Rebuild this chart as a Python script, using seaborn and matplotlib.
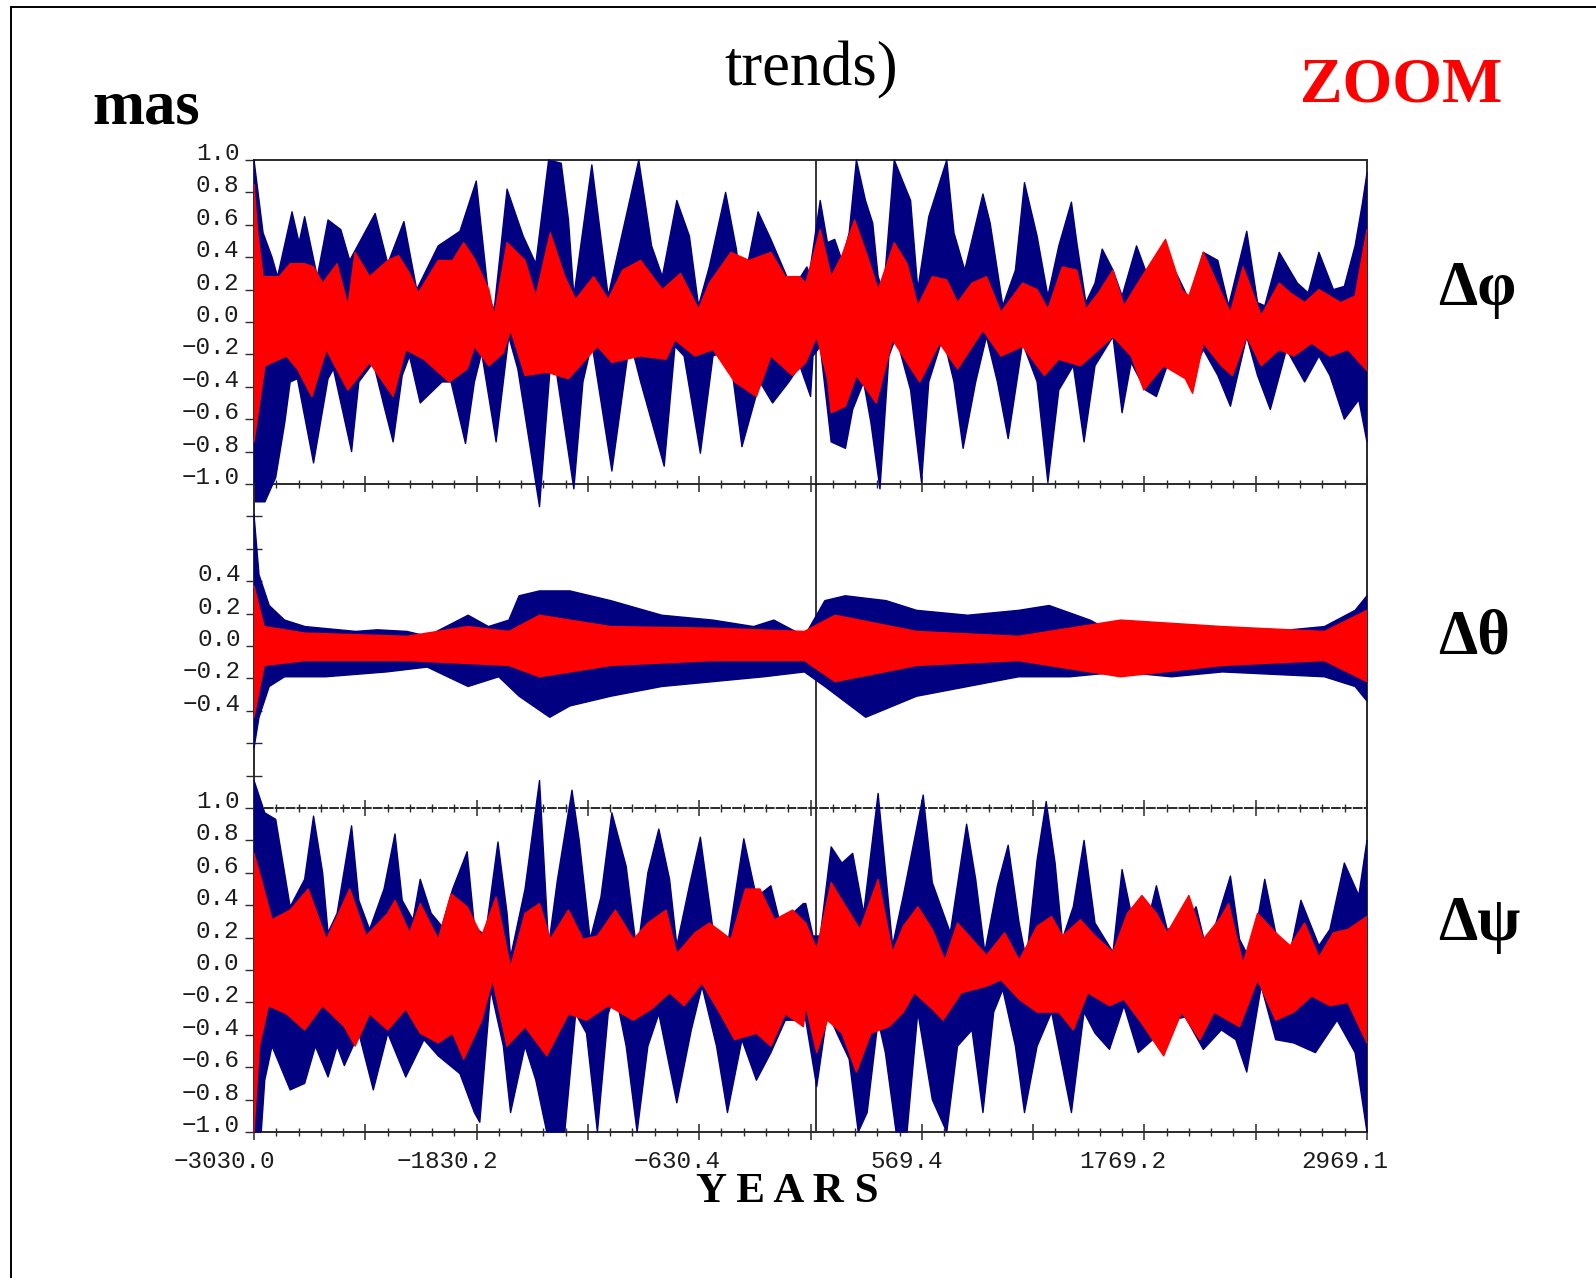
import numpy as np
import pandas as pd
import matplotlib
matplotlib.use("Agg")
import matplotlib.pyplot as plt
import seaborn as sns
from matplotlib.lines import Line2D

# ---------------------------------------------------------------- data
X_MIN, X_MAX = -3030.0, 2969.1
X_TICK_LABELS = ["\u22123030.0", "\u22121830.2", "\u2212630.4", "569.4", "1769.2", "2969.1"]
Y_TICKS_FULL = [-1.0, -0.8, -0.6, -0.4, -0.2, 0.0, 0.2, 0.4, 0.6, 0.8, 1.0]
Y_TICKS_MID = [-0.8, -0.6, -0.4, -0.2, 0.0, 0.2, 0.4, 0.6, 0.8]
Y_LABELS_MID = ["", "", "\u22120.4", "\u22120.2", "0.0", "0.2", "0.4", "", ""]
PANEL_NAMES = ["\u0394\u03c6", "\u0394\u03b8", "\u0394\u03c8"]

# envelopes (year, mas)
PHI_BLUE_HI = [(-3030, 1.00), (-2981, 0.55), (-2933, 0.40), (-2903, 0.28), (-2825, 0.68), (-2787, 0.49),
               (-2757, 0.65), (-2689, 0.28), (-2631, 0.63), (-2562, 0.57), (-2514, 0.38), (-2377, 0.67),
               (-2309, 0.36), (-2222, 0.62), (-2153, 0.20), (-2037, 0.47), (-1920, 0.56), (-1832, 0.87),
               (-1764, 0.14), (-1735, 0.08), (-1666, 0.82), (-1579, 0.53), (-1511, 0.36), (-1442, 1.00),
               (-1374, 0.98), (-1335, 0.63), (-1306, 0.16), (-1209, 0.97), (-1121, 0.16), (-956, 1.00),
               (-887, 0.47), (-829, 0.28), (-751, 0.75), (-683, 0.53), (-634, 0.10), (-576, 0.34),
               (-488, 0.80), (-430, 0.45), (-400, 0.18), (-313, 0.68), (-244, 0.51), (-128, 0.20),
               (-50, 0.34), (-36, 0.30), (22, 0.75), (61, 0.49), (100, 0.51), (139, 0.38), (178, 0.55),
               (217, 1.00), (266, 0.75), (305, 0.61), (334, 0.28), (363, 0.18), (421, 1.00), (470, 0.86),
               (509, 0.75), (548, 0.20), (607, 0.65), (704, 1.00), (743, 0.55), (801, 0.32), (899, 0.79),
               (938, 0.61), (1006, 0.10), (1074, 0.32), (1123, 0.86), (1191, 0.53), (1249, 0.16),
               (1308, 0.47), (1376, 0.74), (1405, 0.49), (1454, 0.12), (1503, 0.24), (1542, 0.45),
               (1600, 0.32), (1649, 0.16), (1727, 0.47), (1775, 0.32), (1824, 0.18), (1883, 0.41),
               (1950, 0.28), (2009, 0.14), (2087, 0.43), (2165, 0.38), (2223, 0.10), (2321, 0.56),
               (2379, 0.12), (2418, 0.10), (2496, 0.43), (2594, 0.24), (2652, 0.18), (2710, 0.43),
               (2788, 0.20), (2847, 0.22), (2905, 0.47), (2944, 0.73), (2969, 0.92)]
PHI_BLUE_LO = [(-3030, -1.11), (-2971, -1.11), (-2913, -0.96), (-2864, -0.62), (-2835, -0.37), (-2796, -0.35),
               (-2709, -0.87), (-2631, -0.35), (-2602, -0.29), (-2504, -0.80), (-2465, -0.37), (-2387, -0.25),
               (-2329, -0.52), (-2280, -0.74), (-2231, -0.33), (-2192, -0.21), (-2134, -0.50), (-2017, -0.37),
               (-1968, -0.37), (-1890, -0.75), (-1842, -0.37), (-1803, -0.19), (-1725, -0.74), (-1657, -0.09),
               (-1608, -0.29), (-1491, -1.14), (-1433, -0.27), (-1413, -0.21), (-1306, -1.03), (-1257, -0.37),
               (-1209, -0.13), (-1101, -0.92), (-1004, -0.11), (-946, -0.37), (-819, -0.89), (-761, -0.15),
               (-712, -0.21), (-624, -0.81), (-556, -0.21), (-468, -0.17), (-400, -0.77), (-303, -0.37),
               (-235, -0.50), (-147, -0.37), (-88, -0.27), (-30, -0.46), (-17, -0.21), (22, -0.15),
               (81, -0.74), (158, -0.78), (197, -0.54), (256, -0.37), (295, -0.62), (344, -1.03),
               (392, -0.21), (431, -0.09), (509, -0.42), (568, -0.99), (607, -0.37), (684, -0.09),
               (743, -0.37), (792, -0.78), (860, -0.37), (918, -0.09), (977, -0.37), (1035, -0.72),
               (1113, -0.13), (1191, -0.37), (1249, -0.99), (1308, -0.42), (1386, -0.27), (1444, -0.74),
               (1503, -0.27), (1600, -0.09), (1649, -0.56), (1698, -0.25), (1775, -0.42), (1834, -0.46),
               (1892, -0.27), (2048, -0.27), (2087, -0.17), (2165, -0.33), (2233, -0.52), (2321, -0.09),
               (2379, -0.33), (2448, -0.54), (2535, -0.17), (2633, -0.37), (2710, -0.21), (2769, -0.33),
               (2847, -0.60), (2925, -0.48), (2969, -0.74)]
PHI_RED_HI = [(-3030, 0.85), (-3010, 0.55), (-2981, 0.28), (-2894, 0.28), (-2835, 0.36), (-2757, 0.36),
              (-2709, 0.34), (-2660, 0.24), (-2582, 0.36), (-2524, 0.10), (-2485, 0.43), (-2407, 0.28),
              (-2309, 0.38), (-2251, 0.41), (-2192, 0.30), (-2144, 0.18), (-2037, 0.38), (-1959, 0.38),
              (-1900, 0.49), (-1842, 0.39), (-1764, 0.20), (-1735, 0.04), (-1666, 0.49), (-1569, 0.38),
              (-1511, 0.16), (-1433, 0.55), (-1355, 0.28), (-1296, 0.14), (-1199, 0.28), (-1121, 0.14),
              (-1043, 0.32), (-946, 0.38), (-829, 0.20), (-731, 0.30), (-634, 0.08), (-576, 0.24),
              (-459, 0.43), (-361, 0.38), (-244, 0.43), (-166, 0.28), (-88, 0.28), (-56, 0.24),
              (22, 0.57), (81, 0.28), (139, 0.41), (207, 0.63), (275, 0.41), (334, 0.20), (421, 0.49),
              (490, 0.36), (548, 0.10), (626, 0.28), (704, 0.26), (762, 0.12), (840, 0.24), (918, 0.28),
              (996, 0.06), (1113, 0.24), (1191, 0.20), (1249, 0.08), (1327, 0.34), (1405, 0.32),
              (1454, 0.08), (1522, 0.18), (1600, 0.32), (1659, 0.10), (1756, 0.28), (1883, 0.51),
              (1970, 0.20), (2009, 0.16), (2087, 0.43), (2184, 0.18), (2233, 0.06), (2301, 0.34),
              (2399, 0.04), (2496, 0.24), (2555, 0.18), (2633, 0.12), (2710, 0.20), (2827, 0.12),
              (2905, 0.16), (2969, 0.57)]
PHI_RED_LO = [(-3030, -0.74), (-3010, -0.58), (-2971, -0.27), (-2855, -0.21), (-2796, -0.29), (-2718, -0.46),
              (-2640, -0.17), (-2524, -0.42), (-2407, -0.25), (-2280, -0.46), (-2212, -0.17), (-2114, -0.23),
              (-1978, -0.37), (-1881, -0.29), (-1842, -0.15), (-1764, -0.27), (-1686, -0.19), (-1647, -0.05),
              (-1569, -0.33), (-1452, -0.31), (-1335, -0.35), (-1257, -0.25), (-1179, -0.15), (-1101, -0.25),
              (-946, -0.21), (-809, -0.23), (-761, -0.11), (-653, -0.21), (-556, -0.17), (-439, -0.37),
              (-322, -0.46), (-244, -0.21), (-128, -0.33), (-56, -0.25), (3, -0.09), (61, -0.35),
              (81, -0.56), (158, -0.52), (217, -0.33), (275, -0.42), (324, -0.50), (412, -0.11),
              (490, -0.25), (558, -0.37), (665, -0.13), (762, -0.29), (899, -0.05), (996, -0.21),
              (1113, -0.15), (1230, -0.33), (1308, -0.23), (1425, -0.27), (1503, -0.19), (1600, -0.09),
              (1698, -0.21), (1766, -0.42), (1873, -0.27), (1990, -0.35), (2029, -0.44), (2087, -0.13),
              (2184, -0.27), (2243, -0.33), (2321, -0.09), (2399, -0.27), (2496, -0.17), (2574, -0.21),
              (2671, -0.13), (2769, -0.21), (2866, -0.17), (2969, -0.30)]

THETA_BLUE_HI = [(-3030, 0.81), (-3003, 0.44), (-2948, 0.25), (-2865, 0.16), (-2755, 0.12), (-2481, 0.09),
                 (-2366, 0.10), (-2206, 0.09), (-2096, 0.06), (-1876, 0.19), (-1766, 0.12), (-1656, 0.16),
                 (-1601, 0.31), (-1491, 0.34), (-1327, 0.34), (-1107, 0.28), (-832, 0.19), (-557, 0.16),
                 (-337, 0.12), (-228, 0.16), (-63, 0.06), (47, 0.28), (157, 0.31), (377, 0.28), (542, 0.22),
                 (817, 0.19), (1091, 0.22), (1256, 0.25), (1476, 0.16), (1641, 0.06), (1916, 0.12),
                 (2190, 0.09), (2465, 0.09), (2740, 0.12), (2905, 0.22), (2969, 0.31)]
THETA_BLUE_LO = [(-3030, -0.63), (-3003, -0.44), (-2948, -0.25), (-2865, -0.19), (-2645, -0.19), (-2316, -0.16),
                 (-2096, -0.13), (-1876, -0.25), (-1711, -0.19), (-1601, -0.31), (-1436, -0.44), (-1327, -0.37),
                 (-1107, -0.31), (-832, -0.25), (-557, -0.22), (-283, -0.19), (-63, -0.16), (47, -0.25),
                 (267, -0.44), (542, -0.31), (817, -0.25), (1091, -0.19), (1366, -0.19), (1641, -0.16),
                 (1916, -0.19), (2190, -0.16), (2740, -0.19), (2905, -0.25), (2969, -0.34)]
THETA_RED_HI = [(-3030, 0.37), (-2975, 0.12), (-2755, 0.08), (-2206, 0.06), (-1876, 0.12), (-1656, 0.09),
                (-1491, 0.19), (-1107, 0.12), (-557, 0.11), (-63, 0.09), (102, 0.19), (542, 0.09),
                (1091, 0.06), (1641, 0.16), (2190, 0.12), (2740, 0.09), (2969, 0.22)]
THETA_RED_LO = [(-3030, -0.44), (-2975, -0.12), (-2755, -0.09), (-2206, -0.09), (-1656, -0.12), (-1491, -0.19),
                (-1107, -0.12), (-557, -0.09), (-63, -0.09), (102, -0.22), (542, -0.12), (1091, -0.09),
                (1641, -0.19), (2190, -0.12), (2740, -0.09), (2969, -0.22)]

PSI_BLUE_HI = [(-3030, 1.17), (-2972, 0.97), (-2913, 0.93), (-2874, 0.66), (-2835, 0.39), (-2757, 0.56),
               (-2709, 0.95), (-2660, 0.60), (-2631, 0.23), (-2582, 0.35), (-2504, 0.89), (-2465, 0.43),
               (-2407, 0.25), (-2329, 0.50), (-2270, 0.84), (-2231, 0.43), (-2173, 0.31), (-2134, 0.56),
               (-2075, 0.35), (-2017, 0.27), (-1959, 0.50), (-1881, 0.73), (-1842, 0.27), (-1783, 0.21),
               (-1715, 0.79), (-1666, 0.35), (-1647, 0.08), (-1569, 0.50), (-1491, 1.17), (-1442, 0.15),
               (-1394, 0.56), (-1316, 1.11), (-1277, 0.80), (-1218, 0.19), (-1160, 0.45), (-1101, 0.97),
               (-1024, 0.64), (-965, 0.10), (-907, 0.60), (-848, 0.87), (-790, 0.56), (-751, 0.15),
               (-683, 0.52), (-624, 0.82), (-556, 0.25), (-478, 0.15), (-390, 0.81), (-322, 0.45),
               (-244, 0.52), (-186, 0.25), (-127, 0.35), (-69, 0.41), (-56, 0.41), (-17, 0.21), (22, 0.21),
               (81, 0.76), (139, 0.66), (197, 0.72), (256, 0.35), (334, 1.09), (412, 0.15), (470, 0.46),
               (577, 1.08), (626, 0.54), (723, 0.23), (811, 0.90), (860, 0.56), (909, 0.11), (977, 0.52),
               (1035, 0.77), (1094, 0.29), (1133, 0.06), (1191, 0.68), (1240, 1.04), (1288, 0.66),
               (1327, 0.19), (1386, 0.39), (1444, 0.80), (1503, 0.29), (1600, 0.11), (1649, 0.62),
               (1698, 0.35), (1756, 0.15), (1834, 0.52), (1892, 0.25), (1990, 0.29), (2048, 0.39),
               (2107, 0.11), (2233, 0.58), (2282, 0.19), (2340, 0.06), (2418, 0.56), (2477, 0.23),
               (2555, 0.11), (2613, 0.43), (2710, 0.15), (2769, 0.25), (2847, 0.66), (2925, 0.46),
               (2969, 0.80)]
PSI_BLUE_LO = [(-3030, -1.00), (-2991, -1.00), (-2972, -0.68), (-2933, -0.47), (-2835, -0.74), (-2757, -0.70),
               (-2699, -0.47), (-2631, -0.66), (-2582, -0.47), (-2543, -0.59), (-2465, -0.39), (-2387, -0.74),
               (-2309, -0.39), (-2212, -0.66), (-2114, -0.43), (-2037, -0.53), (-1920, -0.64), (-1842, -0.88),
               (-1813, -0.94), (-1754, -0.12), (-1686, -0.47), (-1647, -0.88), (-1569, -0.47), (-1511, -0.68),
               (-1452, -1.00), (-1355, -1.00), (-1296, -0.27), (-1238, -0.39), (-1179, -1.00), (-1121, -0.27),
               (-1082, -0.14), (-1024, -0.47), (-965, -1.00), (-907, -0.47), (-848, -0.27), (-751, -0.82),
               (-673, -0.37), (-615, -0.10), (-537, -0.47), (-478, -0.88), (-400, -0.43), (-322, -0.68),
               (-244, -0.51), (-166, -0.31), (-88, -0.31), (-56, -0.31), (3, -0.72), (61, -0.26),
               (120, -0.41), (178, -0.55), (227, -1.00), (275, -0.88), (334, -0.31), (373, -0.51),
               (431, -1.00), (490, -1.00), (548, -0.26), (626, -0.80), (704, -1.00), (762, -0.47),
               (840, -0.37), (899, -0.88), (957, -0.26), (1006, -0.12), (1074, -0.47), (1123, -0.88),
               (1191, -0.47), (1269, -0.26), (1376, -0.88), (1444, -0.26), (1503, -0.39), (1581, -0.49),
               (1659, -0.22), (1736, -0.51), (1814, -0.43), (1912, -0.31), (1990, -0.29), (2087, -0.49),
               (2184, -0.37), (2262, -0.43), (2321, -0.63), (2399, -0.10), (2477, -0.43), (2574, -0.45),
               (2691, -0.51), (2808, -0.31), (2905, -0.51), (2969, -1.00)]
PSI_RED_HI = [(-3030, 0.72), (-2991, 0.56), (-2933, 0.31), (-2835, 0.37), (-2738, 0.50), (-2640, 0.19),
              (-2582, 0.33), (-2514, 0.50), (-2426, 0.21), (-2309, 0.35), (-2270, 0.43), (-2192, 0.23),
              (-2134, 0.41), (-2037, 0.19), (-1968, 0.47), (-1881, 0.39), (-1803, 0.21), (-1725, 0.45),
              (-1647, 0.02), (-1569, 0.35), (-1491, 0.41), (-1433, 0.19), (-1335, 0.37), (-1257, 0.19),
              (-1179, 0.21), (-1082, 0.37), (-985, 0.19), (-907, 0.29), (-809, 0.37), (-751, 0.10),
              (-653, 0.23), (-575, 0.29), (-459, 0.19), (-381, 0.50), (-303, 0.50), (-225, 0.31),
              (-127, 0.37), (-56, 0.29), (3, 0.13), (81, 0.54), (139, 0.43), (236, 0.25), (334, 0.56),
              (412, 0.11), (470, 0.27), (548, 0.39), (626, 0.25), (694, 0.06), (762, 0.29), (840, 0.19),
              (918, 0.09), (1016, 0.23), (1094, 0.06), (1191, 0.27), (1269, 0.33), (1327, 0.21),
              (1425, 0.31), (1503, 0.21), (1600, 0.11), (1678, 0.35), (1756, 0.46), (1834, 0.35),
              (1892, 0.23), (2009, 0.46), (2087, 0.19), (2184, 0.33), (2223, 0.41), (2301, 0.04),
              (2379, 0.35), (2477, 0.23), (2555, 0.15), (2633, 0.29), (2710, 0.08), (2788, 0.23),
              (2866, 0.25), (2969, 0.33)]
PSI_RED_LO = [(-3030, -1.00), (-3001, -0.47), (-2952, -0.22), (-2855, -0.27), (-2757, -0.37), (-2660, -0.22),
              (-2543, -0.35), (-2485, -0.47), (-2407, -0.27), (-2309, -0.37), (-2212, -0.24), (-2134, -0.39),
              (-2037, -0.45), (-1959, -0.39), (-1900, -0.55), (-1803, -0.31), (-1744, -0.06), (-1666, -0.47),
              (-1569, -0.35), (-1452, -0.53), (-1335, -0.27), (-1238, -0.31), (-1121, -0.22), (-985, -0.31),
              (-887, -0.24), (-790, -0.14), (-712, -0.22), (-615, -0.08), (-517, -0.27), (-439, -0.43),
              (-322, -0.39), (-244, -0.47), (-166, -0.27), (-69, -0.35), (-56, -0.22), (3, -0.51),
              (61, -0.31), (139, -0.39), (217, -0.63), (295, -0.39), (392, -0.35), (470, -0.26),
              (529, -0.14), (626, -0.24), (684, -0.31), (782, -0.14), (918, -0.10), (996, -0.06),
              (1094, -0.18), (1191, -0.26), (1308, -0.26), (1386, -0.37), (1464, -0.14), (1581, -0.22),
              (1659, -0.18), (1756, -0.33), (1873, -0.53), (1970, -0.26), (2068, -0.43), (2145, -0.26),
              (2282, -0.35), (2379, -0.06), (2477, -0.31), (2574, -0.26), (2671, -0.16), (2769, -0.22),
              (2866, -0.20), (2969, -0.45)]

# ---------------------------------------------------------------- style
sns.set_theme(style="white")
MONO = ["Liberation Mono", "DejaVu Sans Mono"]
SERIF = ["Liberation Serif", "DejaVu Serif"]
plt.rcParams["font.family"] = MONO
plt.rcParams["axes.unicode_minus"] = True

BLUE = "#000080"
RED = "#ff0000"
SPINE = "#2a2a2a"
LABEL = "#1c1c1c"
TICK_FS = 17.5

W, H = 1596, 1278
fig = plt.figure(figsize=(W / 100, H / 100), dpi=100, facecolor="white")

left = 254 / W
width = (1367 - 254) / W
ph = 324 / H
bottoms = [(H - 484) / H, (H - 808) / H, (H - 1132) / H]
axes = [fig.add_axes([left, b, width, ph]) for b in bottoms]

major_x = X_MIN + (X_MAX - X_MIN) / 10 * np.arange(11)
minor_x = X_MIN + (X_MAX - X_MIN) / 50 * np.arange(51)


def to_frame(pairs):
    return pd.DataFrame(pairs, columns=["year", "value"])


def draw_band(ax, hi, lo, color, z):
    dh, dl = to_frame(hi), to_frame(lo)
    xs = np.concatenate([dh["year"].values, dl["year"].values[::-1]])
    ys = np.concatenate([dh["value"].values, dl["value"].values[::-1]])
    ax.fill(xs, ys, facecolor=color, edgecolor="none", zorder=z, clip_on=False)
    for d in (dh, dl):
        sns.lineplot(data=d, x="year", y="value", ax=ax, color=color, lw=1.0,
                     estimator=None, sort=False, zorder=z, clip_on=False)


bands = [
    (PHI_BLUE_HI, PHI_BLUE_LO, PHI_RED_HI, PHI_RED_LO),
    (THETA_BLUE_HI, THETA_BLUE_LO, THETA_RED_HI, THETA_RED_LO),
    (PSI_BLUE_HI, PSI_BLUE_LO, PSI_RED_HI, PSI_RED_LO),
]

for i, (ax, (bh, bl, rh, rl)) in enumerate(zip(axes, bands)):
    ax.set_facecolor("none")
    ax.axvline(0.0, color="black", lw=1.1, zorder=2)
    draw_band(ax, bh, bl, BLUE, 3)
    draw_band(ax, rh, rl, RED, 4)
    ax.set_xlim(X_MIN, X_MAX)
    ax.set_ylim(-1.0, 1.0)
    ax.set_xlabel("")
    ax.set_ylabel("")
    ax.grid(False)
    for s in ax.spines.values():
        s.set_visible(True)
        s.set_color(SPINE)
        s.set_linewidth(1.4)
    ax.set_xticks(major_x)
    ax.set_xticks(minor_x, minor=True)
    ax.tick_params(axis="x", which="both", labelbottom=False, labeltop=False,
                   direction="inout", color=SPINE)
    ax.tick_params(axis="x", which="major", length=12, width=1.1)
    ax.tick_params(axis="x", which="minor", length=5.5, width=1.0)

# top panel
ax0, ax1, ax2 = axes
ax0.tick_params(axis="x", which="both", bottom=True, top=False)
# middle panel
ax1.spines["top"].set_visible(False)
ax1.spines["bottom"].set_visible(False)
ax1.tick_params(axis="x", which="both", bottom=False, top=False)
# bottom panel
ax2.spines["top"].set_linestyle((0, (4, 1.6)))
ax2.tick_params(axis="x", which="both", bottom=True, top=True)

for ax, ticks, labels, direc, ln in [
    (ax0, Y_TICKS_FULL, [f"{v:.1f}".replace("-", "\u2212") for v in Y_TICKS_FULL], "out", 6.5),
    (ax1, Y_TICKS_MID, Y_LABELS_MID, "inout", 11),
    (ax2, Y_TICKS_FULL, [f"{v:.1f}".replace("-", "\u2212") for v in Y_TICKS_FULL], "out", 6.5),
]:
    ax.set_yticks(ticks)
    ax.set_yticklabels(labels)
    ax.tick_params(axis="y", which="major", left=True, right=False, direction=direc,
                   length=ln, width=1.0, color=SPINE, pad=4, labelsize=TICK_FS,
                   labelcolor=LABEL)
    for lbl in ax.get_yticklabels():
        lbl.set_fontfamily(MONO)
        lbl.set_verticalalignment("baseline")

# x tick labels: decimal point sits on the tick
char_pt = 0.6 * TICK_FS
for pos, lbl in zip(major_x[::2], X_TICK_LABELS):
    n = len(lbl)
    n_int = lbl.index(".")
    dx = (n / 2 - n_int - 0.5) * char_pt
    ax2.annotate(lbl, xy=(pos, 0), xycoords=("data", "axes fraction"),
                 xytext=(dx, -26), textcoords="offset points",
                 ha="center", va="baseline", fontsize=TICK_FS, color=LABEL,
                 family=MONO, annotation_clip=False)

# ---------------------------------------------------------------- texts
fig.text(146 / W, 1 - 123 / H, "mas", ha="center", va="baseline", fontsize=45,
         fontweight="bold", family=SERIF, color="black")
fig.text(811 / W, 1 - 85 / H, "trends)", ha="center", va="baseline", fontsize=45,
         family=SERIF, color="black")
fig.text(1401 / W, 1 - 102 / H, "ZOOM", ha="center", va="baseline", fontsize=46,
         fontweight="bold", family=SERIF, color="#ff0000")
for name, base in zip(PANEL_NAMES, [305, 653, 940]):
    fig.text(1438 / W, 1 - base / H, name, ha="left", va="baseline", fontsize=45,
             fontweight="bold", family=SERIF, color="black")
fig.text(787 / W, 1 - 1202 / H, "Y E A R S", ha="center", va="baseline", fontsize=31,
         fontweight="bold", family=SERIF, color="black")

# slide frame
fig.add_artist(Line2D([11 / W, 11 / W], [0, 1 - 7 / H], transform=fig.transFigure,
                      color="black", lw=1.4))
fig.add_artist(Line2D([11 / W, 1], [1 - 7 / H, 1 - 7 / H], transform=fig.transFigure,
                      color="black", lw=1.4))

fig.savefig("out.png", dpi=100, facecolor="white")
